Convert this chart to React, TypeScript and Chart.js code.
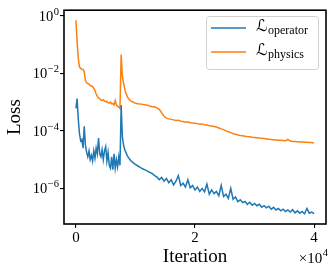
import React, { useEffect, useRef } from 'react';
import { Chart, registerables } from 'chart.js';

Chart.register(...registerables);

const iterations = [
  0, 200, 400, 600, 800, 1000, 1200, 1400, 1600, 1800,
  2000, 2200, 2400, 2600, 2800, 3000, 3200, 3400, 3600, 3800,
  4000, 4200, 4400, 4600, 4800, 5000, 5200, 5400, 5600, 5800,
  6000, 6200, 6400, 6600, 6800, 7000, 7200, 7400, 7600, 7800,
  8000, 8200, 8400, 8600, 8800, 9000, 9200, 9400, 9600, 9800,
  10000,
  10400, 10800, 11200, 11600, 12000, 12400, 12800, 13200, 13600, 14000,
  14400, 14800, 15200, 15600, 16000, 16400, 16800, 17200, 17600, 18000,
  18400, 18800, 19200, 19600, 20000, 20400, 20800, 21200, 21600, 22000,
  22400, 22800, 23200, 23600, 24000, 24400, 24800, 25200, 25600, 26000,
  26400, 26800, 27200, 27600, 28000, 28400, 28800, 29200, 29600, 30000,
  30400, 30800, 31200, 31600, 32000, 32400, 32800, 33200, 33600, 34000,
  34400, 34800, 35200, 35600, 36000, 36400, 36800, 37200, 37600, 38000,
  38400, 38800, 39200, 39600, 40000,
];

const operatorLoss = [
  6.0e-4, 1.32e-3, 2.5e-4, 7.9e-5, 4.5e-5, 5.0e-5, 2.5e-5, 1.45e-4, 3.2e-5, 1.78e-5,
  1.26e-5, 2.0e-5, 1.0e-5, 1.41e-5, 8.9e-6, 2.0e-5, 1.12e-5, 2.5e-5, 1.58e-5, 5.6e-5,
  1.58e-5, 1.26e-5, 2.2e-5, 1.0e-5, 2.0e-5, 2.8e-5, 8.9e-6, 1.78e-5, 6.3e-6, 5.0e-6,
  1.26e-5, 4.5e-6, 1.58e-5, 5.0e-6, 1.0e-5, 5.6e-6, 1.26e-5, 6.3e-6, 7.8e-4, 6.3e-5,
  3.2e-5, 2.2e-5, 1.78e-5, 1.41e-5, 1.2e-5, 1.05e-5, 9.3e-6, 8.5e-6, 7.9e-6, 7.2e-6,
  6.8e-6,
  6.0e-6, 5.4e-6, 4.8e-6, 4.4e-6, 4.0e-6, 3.6e-6, 3.3e-6, 2.8e-6, 2.5e-6, 2.0e-6,
  2.4e-6, 1.78e-6, 2.2e-6, 1.58e-6, 2.0e-6, 1.32e-6, 1.78e-6, 2.8e-6, 1.26e-6, 1.51e-6,
  1.12e-6, 2.0e-6, 1.05e-6, 1.26e-6, 8.9e-7, 1.12e-6, 7.9e-7, 1.0e-6, 7.6e-7, 1.41e-6,
  6.3e-7, 8.9e-7, 6.6e-7, 7.9e-7, 5.6e-7, 1.26e-6, 5.2e-7, 6.3e-7, 4.5e-7, 1.0e-6,
  4.2e-7, 5.0e-7, 3.5e-7, 4.0e-7, 3.2e-7, 3.5e-7, 2.8e-7, 3.3e-7, 2.6e-7, 3.0e-7,
  2.5e-7, 2.8e-7, 2.2e-7, 2.5e-7, 2.1e-7, 2.4e-7, 1.9e-7, 2.2e-7, 1.78e-7, 2.0e-7,
  1.66e-7, 1.9e-7, 1.58e-7, 1.78e-7, 1.51e-7, 1.82e-7, 1.41e-7, 1.66e-7, 1.38e-7, 1.58e-7,
  1.32e-7, 2.0e-7, 1.38e-7, 1.51e-7, 1.32e-7,
];

const physicsLoss = [
  6.9e-1, 1.26e-1, 3.2e-2, 1.66e-2, 1.48e-2, 1.38e-2, 1.35e-2, 1.12e-2, 5.6e-3, 4.7e-3,
  4.4e-3, 4.2e-3, 3.8e-3, 3.6e-3, 3.5e-3, 3.0e-3, 2.5e-3, 1.9e-3, 1.58e-3, 1.38e-3,
  1.32e-3, 1.17e-3, 1.12e-3, 1.2e-3, 1.07e-3, 1.02e-3, 1.05e-3, 9.5e-4, 9.1e-4, 1.0e-3,
  8.7e-4, 8.9e-4, 7.9e-4, 1.12e-3, 7.9e-4, 7.2e-4, 6.6e-4, 6.0e-4, 4.5e-2, 7.9e-3,
  4.5e-3, 2.8e-3, 2.0e-3, 1.58e-3, 1.35e-3, 1.2e-3, 1.1e-3, 1.05e-3, 1.0e-3, 9.5e-4,
  9.1e-4,
  8.7e-4, 8.5e-4, 8.3e-4, 8.0e-4, 7.8e-4, 7.3e-4, 6.9e-4, 6.8e-4, 6.3e-4, 5.6e-4,
  4.2e-4, 3.2e-4, 2.75e-4, 2.6e-4, 2.5e-4, 2.4e-4, 2.3e-4, 2.35e-4, 2.15e-4, 2.1e-4,
  2.0e-4, 2.05e-4, 1.9e-4, 1.86e-4, 1.82e-4, 1.78e-4, 1.7e-4, 1.74e-4, 1.62e-4, 1.58e-4,
  1.51e-4, 1.48e-4, 1.41e-4, 1.35e-4, 1.26e-4, 1.17e-4, 1.1e-4, 1.0e-4, 9.3e-5, 8.7e-5,
  7.9e-5, 7.6e-5, 7.2e-5, 6.9e-5, 6.8e-5, 6.5e-5, 6.3e-5, 6.2e-5, 6.0e-5, 5.9e-5,
  5.75e-5, 5.6e-5, 5.5e-5, 5.4e-5, 5.25e-5, 5.1e-5, 5.0e-5, 4.9e-5, 4.8e-5, 4.7e-5,
  4.7e-5, 4.6e-5, 4.5e-5, 5.0e-5, 4.4e-5, 4.3e-5, 4.3e-5, 4.2e-5, 4.1e-5, 4.1e-5,
  4.0e-5, 4.0e-5, 3.9e-5, 3.9e-5, 3.8e-5,
];

const seriesSubscripts = ['operator', 'physics'];
const seriesColors = ['#1f77b4', '#ff7f0e'];
const xTickValues = [0, 20000, 40000];
const xTickLabels = ['0', '2', '4'];
const yTickValues = [1, 1e-2, 1e-4, 1e-6];
const yTickExponents = ['0', '\u22122', '\u22124', '\u22126'];
const xAxisTitle = 'Iteration';
const yAxisTitle = 'Loss';
const xMultiplierBase = '\u00d710';
const xMultiplierExp = '4';

const SERIF = '"Liberation Serif", "DejaVu Serif", serif';
const SCRIPT = '"DejaVu Serif", "DejaVu Sans", serif';

const decorPlugin = {
  id: 'decor',
  afterDraw(chart: any) {
    const { ctx, chartArea } = chart;
    const yScale = chart.scales.y;
    ctx.save();

    // frame
    ctx.strokeStyle = '#000';
    ctx.lineWidth = 1.6;
    ctx.strokeRect(chartArea.left, chartArea.top, chartArea.right - chartArea.left, chartArea.bottom - chartArea.top);

    // y tick labels (10^n)
    ctx.fillStyle = '#000';
    ctx.textBaseline = 'alphabetic';
    ctx.textAlign = 'left';
    const right = chartArea.left - 5;
    yTickValues.forEach((v, i) => {
      const y = yScale.getPixelForValue(v);
      ctx.font = '10.5px ' + SERIF;
      const ew = ctx.measureText(yTickExponents[i]).width;
      ctx.font = '14.5px ' + SERIF;
      const bw = ctx.measureText('10').width;
      const ex = right - ew;
      const bx = ex - bw - 0.5;
      ctx.fillText('10', bx, y + 5);
      ctx.font = '10.5px ' + SERIF;
      ctx.fillText(yTickExponents[i], ex, y - 1);
    });

    // x multiplier
    ctx.font = '10.5px ' + SERIF;
    const mew = ctx.measureText(xMultiplierExp).width;
    ctx.font = '15px ' + SERIF;
    const mbw = ctx.measureText(xMultiplierBase).width;
    const mRight = 328;
    ctx.fillText(xMultiplierBase, mRight - mew - mbw - 0.5, 263);
    ctx.font = '10.5px ' + SERIF;
    ctx.fillText(xMultiplierExp, mRight - mew, 256);

    // legend
    const lx = 206, ly = 16, lw = 112, lh = 53;
    ctx.beginPath();
    ctx.roundRect(lx + 0.5, ly + 0.5, lw, lh, 3);
    ctx.fillStyle = 'rgba(255,255,255,0.8)';
    ctx.fill();
    ctx.strokeStyle = 'rgba(204,204,204,0.9)';
    ctx.lineWidth = 1;
    ctx.stroke();
    const rows = [28, 52];
    chart.data.datasets.forEach((ds: any, i: number) => {
      const ry = rows[i];
      ctx.strokeStyle = ds.borderColor;
      ctx.lineWidth = 1.6;
      ctx.beginPath();
      ctx.moveTo(211, ry);
      ctx.lineTo(246, ry);
      ctx.stroke();
      ctx.fillStyle = '#000';
      ctx.font = '16px ' + SCRIPT;
      ctx.fillText('\u2112', 256, ry + 3);
      const lwid = ctx.measureText('\u2112').width;
      ctx.font = '12px ' + SERIF;
      ctx.fillText(seriesSubscripts[i], 256 + lwid + 0.5, ry + 6);
    });

    ctx.restore();
  },
};

export default function App() {
  const ref = useRef<HTMLCanvasElement>(null);
  useEffect(() => {
    if (!ref.current) return;
    const makeData = (vals: number[]) => iterations.map((x, i) => ({ x, y: vals[i] }));
    const chart = new Chart(ref.current, {
      type: 'line',
      data: {
        datasets: [
          {
            label: 'operator',
            data: makeData(operatorLoss),
            borderColor: seriesColors[0],
            backgroundColor: seriesColors[0],
            borderWidth: 1.5,
            pointRadius: 0,
            tension: 0,
          },
          {
            label: 'physics',
            data: makeData(physicsLoss),
            borderColor: seriesColors[1],
            backgroundColor: seriesColors[1],
            borderWidth: 1.5,
            pointRadius: 0,
            tension: 0,
          },
        ],
      },
      options: {
        responsive: false,
        animation: false,
        devicePixelRatio: 1,
        layout: { padding: { left: 0, right: 6, top: 6.5, bottom: 0 } },
        plugins: { legend: { display: false }, tooltip: { enabled: false } },
        scales: {
          x: {
            type: 'linear',
            min: -2000,
            max: 42000,
            afterFit: (s: any) => { s.height = 49; },
            afterBuildTicks: (s: any) => { s.ticks = xTickValues.map((v) => ({ value: v })); },
            ticks: {
              callback: (v: any) => xTickLabels[xTickValues.indexOf(Number(v))] ?? '',
              font: { family: SERIF, size: 15 },
              color: '#000',
              padding: 1,
              maxRotation: 0,
              autoSkip: false,
            },
            grid: { drawOnChartArea: false, drawTicks: true, tickLength: 4, color: '#000', lineWidth: 1.1 },
            border: { display: false },
            title: {
              display: true,
              text: xAxisTitle,
              font: { family: SERIF, size: 19 },
              color: '#000',
              padding: { top: 0, bottom: 4.6 },
            },
          },
          y: {
            type: 'logarithmic',
            min: 5.8e-8,
            max: 1.55,
            afterFit: (s: any) => { s.width = 64; },
            afterBuildTicks: (s: any) => { s.ticks = yTickValues.map((v) => ({ value: v })); },
            ticks: { callback: () => '', autoSkip: false },
            grid: { drawOnChartArea: false, drawTicks: true, tickLength: 4, color: '#000', lineWidth: 1.1 },
            border: { display: false },
            title: {
              display: true,
              text: yAxisTitle,
              font: { family: SERIF, size: 19 },
              color: '#000',
              padding: { top: 3.6, bottom: 0 },
            },
          },
        },
      },
      plugins: [decorPlugin],
    });
    return () => chart.destroy();
  }, []);
  return (
    <div style={{ position: 'absolute', left: 0, top: 0, width: 332, height: 273, background: '#fff' }}>
      <canvas ref={ref} width={332} height={273} />
    </div>
  );
}
